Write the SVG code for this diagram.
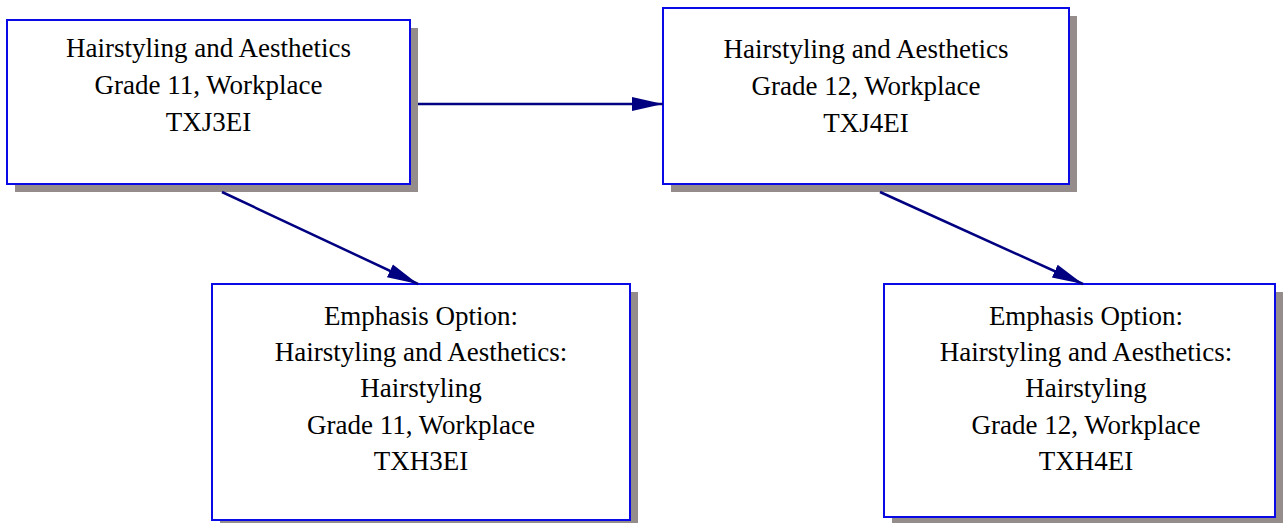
<svg xmlns="http://www.w3.org/2000/svg" width="1285" height="523" viewBox="0 0 1285 523">
<style>
.shadow{fill:#958c8c;stroke:none}
.box{fill:#ffffff;stroke:#0a0ae6;stroke-width:2}
.lbl{font-family:"Liberation Serif","Times New Roman",serif;font-size:27px;fill:#000000;text-anchor:middle}
.edge{stroke:#000080;stroke-width:2.5;fill:none}
</style>
<defs>
<marker id="ah" markerUnits="userSpaceOnUse" markerWidth="32" markerHeight="16" viewBox="0 0 32 16" refX="31" refY="8" orient="auto">
<path d="M0,1 L31,8 L0,15 Z" fill="#000080"/>
</marker>
</defs>
<g id="n1">
<rect class="shadow" x="15" y="28" width="403" height="164"/>
<rect class="box" x="7" y="20" width="403" height="164"/>
<text class="lbl" x="208.5" y="57">Hairstyling and Aesthetics</text>
<text class="lbl" x="208.5" y="94">Grade 11, Workplace</text>
<text class="lbl" x="208.5" y="131">TXJ3EI</text>
</g>
<g id="n2">
<rect class="shadow" x="671" y="16" width="406" height="176"/>
<rect class="box" x="663" y="8" width="406" height="176"/>
<text class="lbl" x="866" y="58">Hairstyling and Aesthetics</text>
<text class="lbl" x="866" y="95">Grade 12, Workplace</text>
<text class="lbl" x="866" y="132">TXJ4EI</text>
</g>
<g id="n3">
<rect class="shadow" x="220" y="292" width="418" height="236"/>
<rect class="box" x="212" y="284" width="418" height="236"/>
<text class="lbl" x="421" y="325">Emphasis Option:</text>
<text class="lbl" x="421" y="361">Hairstyling and Aesthetics:</text>
<text class="lbl" x="421" y="397">Hairstyling</text>
<text class="lbl" x="421" y="434">Grade 11, Workplace</text>
<text class="lbl" x="421" y="470">TXH3EI</text>
</g>
<g id="n4">
<rect class="shadow" x="892" y="292" width="391" height="233"/>
<rect class="box" x="884" y="284" width="391" height="233"/>
<text class="lbl" x="1086" y="325">Emphasis Option:</text>
<text class="lbl" x="1086" y="361">Hairstyling and Aesthetics:</text>
<text class="lbl" x="1086" y="397">Hairstyling</text>
<text class="lbl" x="1086" y="434">Grade 12, Workplace</text>
<text class="lbl" x="1086" y="470">TXH4EI</text>
</g>
<g id="connectors">
<line class="edge" x1="418" y1="104" x2="663" y2="104" marker-end="url(#ah)"/>
<line class="edge" x1="222" y1="192" x2="418" y2="284" stroke-width="2" marker-end="url(#ah)"/>
<line class="edge" x1="880" y1="192" x2="1083" y2="284" stroke-width="2" marker-end="url(#ah)"/>
</g>
</svg>
